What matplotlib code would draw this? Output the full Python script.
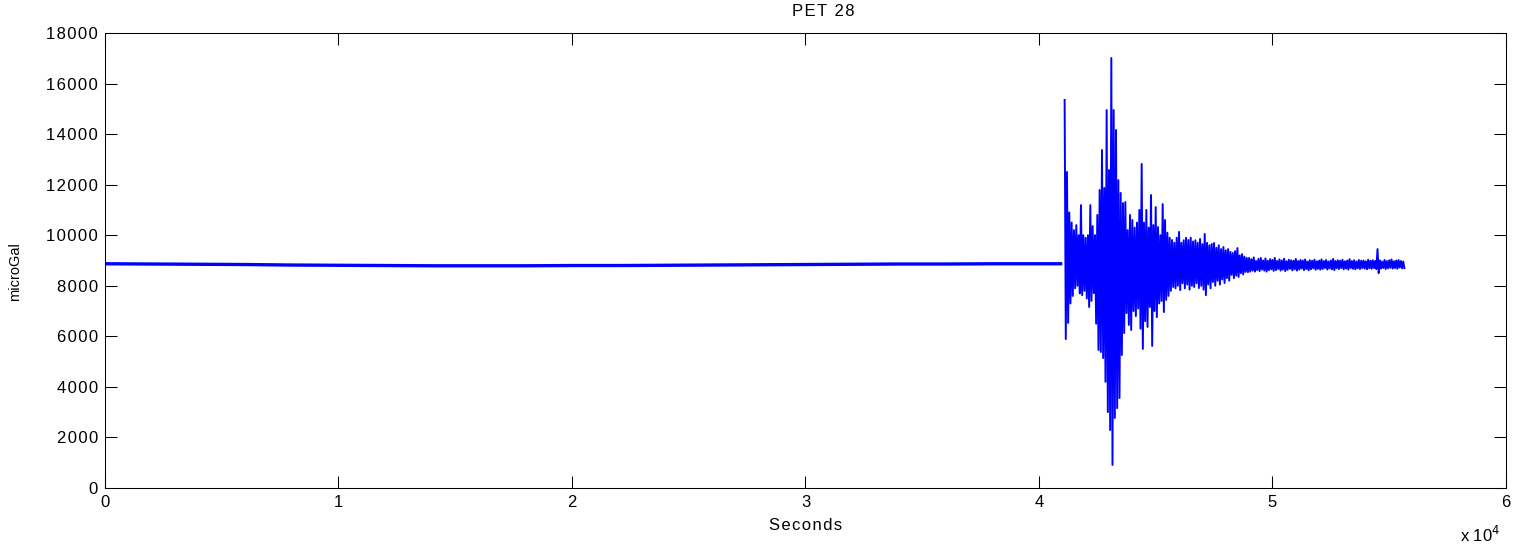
import numpy as np
import matplotlib
matplotlib.use("Agg")
import matplotlib.pyplot as plt
from matplotlib.ticker import FuncFormatter

plt.rcParams['font.family'] = ['Liberation Sans', 'DejaVu Sans']

# quiet part of the record: slow drift, sampled every 2000 s (last point at 41000 s)
drift_t = [0, 2000, 4000, 6000, 8000, 10000, 12000, 14000, 16000, 18000, 20000,
           22000, 24000, 26000, 28000, 30000, 32000, 34000, 36000, 38000, 40000, 41000]
drift_v = [8870, 8860, 8850, 8840, 8820, 8810, 8800, 8790, 8790, 8790, 8800,
           8800, 8810, 8820, 8830, 8840, 8850, 8860, 8860, 8870, 8870, 8870]

# shaking: one crest and one trough every 100 s from t0
t0 = 41100
dt = 100
crest = [15350, 12500, 10900, 10500, 10200, 10400, 10000, 11190, 10000, 9900,
         10000, 11190, 10360, 10000, 10800, 11790, 13370, 11870, 14950, 12580,
         17010, 14950, 14160, 12180, 11670, 11270, 11310, 10200, 10800, 10600,
         10300, 10500, 11000, 12820, 10500, 11000, 10300, 11590, 10400, 11110,
         10320, 10000, 11230, 10600, 10100, 9900, 9810, 9700, 9900, 10130,
         9700, 9800, 9900, 9810, 9900, 9750, 9800, 9700, 9850, 9650,
         10050, 9700, 9600, 9650, 9690, 9500, 9600, 9450, 9530, 9400,
         9450, 9340, 9300, 9370, 9490, 9200, 9250, 9150, 9100, 9100,
         9050, 9120, 8980, 9060, 9100, 9000, 9080, 8990, 9050, 9020,
         9100, 8980, 9040, 9000, 9070, 8970, 9030, 9010, 8990, 9060,
         8980, 9020, 9000, 9040, 8960, 9010, 8990, 9030, 8970, 9000,
         9040, 8980, 9020, 8960, 9000, 9060, 8980, 9010, 8990, 9030,
         8970, 9000, 9050, 8980, 9010, 8960, 9020, 8990, 9000, 8970,
         9030, 8990, 9010, 8980, 9450, 9000, 8960, 9020, 8980, 9010,
         9040, 8970, 9000, 9020, 8980, 8960]
trough = [5890, 6530, 7300, 7600, 7900, 8000, 7700, 7630, 7800, 7500,
          7160, 7400, 7710, 6500, 5460, 5380, 5140, 4200, 3000, 2290,
          910, 2770, 3160, 3560, 5260, 6130, 6920, 6450, 6250, 7000,
          6800, 7100, 6300, 5500, 6600, 6370, 7160, 5620, 7000, 6760,
          7300, 7400, 6960, 7440, 7600, 7800, 7950, 7900, 8000, 7830,
          8100, 7900, 8050, 7850, 8000, 7950, 8100, 7910, 8000, 7850,
          7630, 8050, 7900, 8150, 8000, 8200, 8050, 8250, 8110, 8300,
          8200, 8430, 8300, 8400, 8350, 8500, 8450, 8550, 8540, 8560,
          8600, 8560, 8620, 8580, 8640, 8600, 8560, 8620, 8650, 8590,
          8620, 8660, 8600, 8640, 8580, 8630, 8670, 8610, 8650, 8600,
          8640, 8680, 8620, 8660, 8610, 8650, 8690, 8630, 8670, 8640,
          8660, 8700, 8640, 8680, 8650, 8620, 8690, 8660, 8700, 8650,
          8680, 8640, 8700, 8670, 8650, 8690, 8660, 8700, 8680, 8650,
          8690, 8670, 8700, 8660, 8500, 8680, 8700, 8660, 8690, 8710,
          8680, 8700, 8670, 8720, 8690, 8700]

xticks = [0, 10000, 20000, 30000, 40000, 50000, 60000]
yticks = [0, 2000, 4000, 6000, 8000, 10000, 12000, 14000, 16000, 18000]


def spaced(s):
    # loose letter spacing for labels
    return '\u200a'.join(s)


# interleave crests and troughs into one trace
n = len(crest)
burst_t = t0 + dt * np.arange(2 * n) / 2.0
burst_v = np.empty(2 * n)
burst_v[0::2] = crest
burst_v[1::2] = trough

fig = plt.figure(figsize=(15.23, 5.47), dpi=100)
ax = fig.add_axes([0.0689, 0.1079, 0.9199, 0.8318])

ax.plot(drift_t, drift_v, color=(0, 0, 1), lw=2.4, solid_capstyle='butt')
ax.plot(burst_t, burst_v, color=(0, 0, 1), lw=1.4)

ax.set_xlim(0, 60000)
ax.set_ylim(0, 18000)
ax.set_xticks(xticks)
ax.set_yticks(yticks)
ax.xaxis.set_major_formatter(FuncFormatter(lambda v, p: '%d' % round(v / 1e4)))
ax.yaxis.set_major_formatter(FuncFormatter(lambda v, p: spaced('%d' % v)))
ax.tick_params(direction='in', length=8.5, width=0.75, top=True, right=True,
               labelsize=12, pad=5)
for s in ax.spines.values():
    s.set_linewidth(0.75)

fig.text(823 / 1523, 1 - 12 / 547, spaced('PET 28'), fontsize=12,
         ha='center', va='center')
ax.set_xlabel(spaced('Seconds'), fontsize=12, labelpad=6)
ax.set_ylabel('microGal', fontsize=10.5)
ax.yaxis.set_label_coords(-0.059, 0.475)
fig.text(0.972, 0.004, 'x 10$^{4}$', fontsize=12, ha='center', va='bottom')

fig.savefig('out.png', dpi=100)
